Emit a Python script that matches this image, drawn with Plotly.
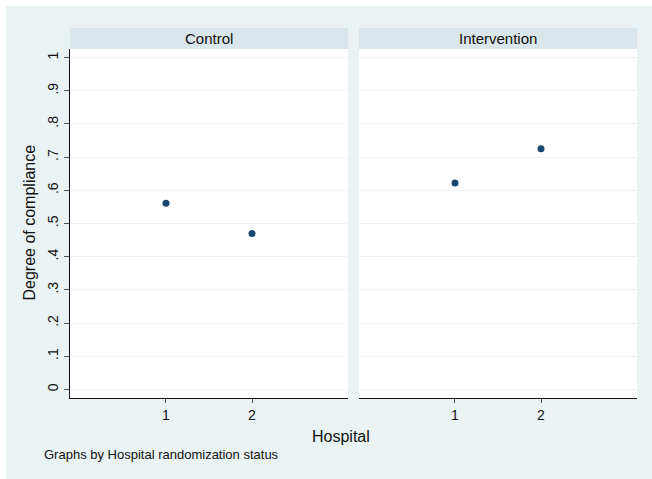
import plotly.graph_objects as go

# Mean degree of compliance per hospital, by randomization arm
hospitals = [1, 2]
control_compliance = [0.561, 0.470]
intervention_compliance = [0.622, 0.725]
panel_titles = ["Control", "Intervention"]
y_ticks = [0, 0.1, 0.2, 0.3, 0.4, 0.5, 0.6, 0.7, 0.8, 0.9, 1.0]
y_tick_labels = ["0", ".1", ".2", ".3", ".4", ".5", ".6", ".7", ".8", ".9", "1"]

W, H = 652, 479
BG = "#EAF2F3"
STRIP = "#D9E6EB"
MARK = "#1A476F"
FONT = "Liberation Sans, Arial, sans-serif"


def px_x(v):
    return v / W


def px_y(v):
    return 1 - v / H


panels = [(70, 348), (359, 637)]
plot_top, plot_bot = 49, 398
strip_top = 28

fig = go.Figure()
fig.add_trace(go.Scatter(x=hospitals, y=control_compliance, mode="markers",
                         marker=dict(color=MARK, size=7), xaxis="x", yaxis="y",
                         showlegend=False, hoverinfo="skip"))
fig.add_trace(go.Scatter(x=hospitals, y=intervention_compliance, mode="markers",
                         marker=dict(color=MARK, size=7), xaxis="x2", yaxis="y2",
                         showlegend=False, hoverinfo="skip"))

shapes = [dict(type="rect", xref="paper", yref="paper", x0=px_x(6), x1=1,
               y0=0, y1=px_y(6), fillcolor=BG, line=dict(width=0), layer="below")]
annotations = []
for (x0, x1), title in zip(panels, panel_titles):
    shapes.append(dict(type="rect", xref="paper", yref="paper",
                       x0=px_x(x0), x1=px_x(x1), y0=px_y(plot_bot), y1=px_y(plot_top),
                       fillcolor="white", line=dict(width=0), layer="below"))
    shapes.append(dict(type="rect", xref="paper", yref="paper",
                       x0=px_x(x0), x1=px_x(x1), y0=px_y(plot_top), y1=px_y(strip_top),
                       fillcolor=STRIP, line=dict(width=0), layer="below"))
    annotations.append(dict(text=title, xref="paper", yref="paper",
                            x=px_x((x0 + x1) / 2), y=px_y((plot_top + strip_top) / 2),
                            showarrow=False, xanchor="center", yanchor="middle",
                            font=dict(size=15, color="#111111", family=FONT)))

annotations += [
    dict(text="Degree of compliance", xref="paper", yref="paper", x=px_x(28.5),
         y=px_y(223), textangle=-90, showarrow=False, xanchor="center",
         yanchor="middle", font=dict(size=16, color="#111111", family=FONT)),
    dict(text="Hospital", xref="paper", yref="paper", x=px_x(341), y=px_y(436),
         showarrow=False, xanchor="center", yanchor="middle",
         font=dict(size=16, color="#111111", family=FONT)),
    dict(text="Graphs by Hospital randomization status", xref="paper", yref="paper",
         x=px_x(42), y=px_y(454), showarrow=False, xanchor="left", yanchor="middle",
         font=dict(size=13, color="#111111", family=FONT)),
]

x_common = dict(range=[-0.116, 3.116], tickvals=hospitals, ticktext=["1", "2"],
                showgrid=False, zeroline=False, showline=True, linecolor="#111111",
                linewidth=1, ticks="outside", ticklen=4, tickcolor="#555555",
                tickfont=dict(size=14, color="#111111", family=FONT), fixedrange=True)
y_common = dict(range=[-0.026, 1.026], tickvals=y_ticks, showgrid=True,
                gridcolor=BG, gridwidth=1, zeroline=False, fixedrange=True,
                domain=[px_y(plot_bot), px_y(plot_top)])

fig.update_layout(
    width=W, height=H, margin=dict(l=0, r=0, t=0, b=0),
    paper_bgcolor="white", plot_bgcolor="rgba(0,0,0,0)",
    xaxis=dict(domain=[px_x(70), px_x(348)], anchor="y", **x_common),
    xaxis2=dict(domain=[px_x(359), px_x(637)], anchor="y2", **x_common),
    yaxis=dict(anchor="x", ticktext=y_tick_labels, showline=True, linecolor="#111111",
               linewidth=1, ticks="outside", ticklen=5, tickcolor="#555555",
               tickangle=-90, tickfont=dict(size=14, color="#111111", family=FONT),
               **y_common),
    yaxis2=dict(anchor="x2", showticklabels=False, showline=False, ticks="",
                **y_common),
    shapes=shapes, annotations=annotations,
)

fig.write_html("out.html")
